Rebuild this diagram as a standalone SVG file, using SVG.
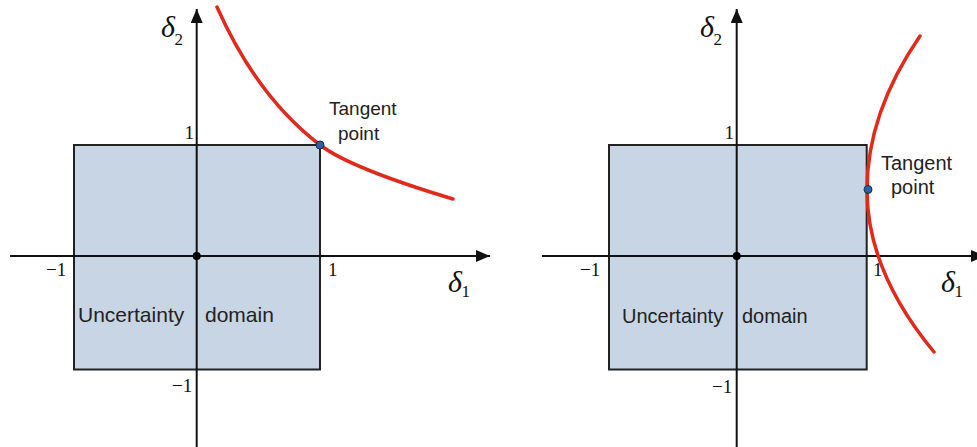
<svg xmlns="http://www.w3.org/2000/svg" width="977" height="447" viewBox="0 0 977 447">
<style>
.axis{stroke:#111;stroke-width:2;fill:none}
.dom{fill:#c7d5e4;stroke:#222;stroke-width:2}
.curve{stroke:#e02a1b;stroke-width:3.5;fill:none;stroke-linecap:round}
.tp{fill:#2f5fa6;stroke:#1a2a44;stroke-width:1}
.org{fill:#000}
.sans{font-family:"Liberation Sans",Arial,sans-serif;fill:#222}
.num{font-family:"Liberation Serif","Times New Roman",serif;font-size:19px;fill:#111}
.del{font-family:"Liberation Serif","Times New Roman",serif;font-style:italic;font-size:30px;fill:#111}
.sub{font-family:"Liberation Serif","Times New Roman",serif;font-size:17px;fill:#111}
</style>
<defs>
<marker id="arrow" markerUnits="userSpaceOnUse" markerWidth="15" markerHeight="12" refX="14" refY="6" orient="auto">
<path d="M0,0 L14,6 L0,12 z" fill="#111"/>
</marker>
</defs>

<g id="left-panel">
<g id="left-domain">
<rect class="dom" x="74" y="145" width="246" height="224.5"/>
<text class="sans" x="78" y="322" font-size="21">Uncertainty</text>
<text class="sans" x="205" y="322" font-size="21">domain</text>
</g>
<g id="left-axes">
<line class="axis" x1="10" y1="256" x2="490" y2="256" marker-end="url(#arrow)"/>
<line class="axis" x1="196.7" y1="447" x2="196.7" y2="9" marker-end="url(#arrow)"/>
<circle class="org" cx="196.7" cy="256" r="4"/>
<text class="num" x="184.5" y="139">1</text>
<text class="num" x="46" y="276">−1</text>
<text class="num" x="328" y="276">1</text>
<text class="num" x="172" y="392">−1</text>
<text class="del" x="161" y="37">δ</text><text class="sub" x="174.5" y="45">2</text>
<text class="del" x="448" y="292">δ</text><text class="sub" x="461.5" y="297">1</text>
</g>
<g id="left-curve">
<path class="curve" d="M217,7 Q257,97 320,145 Q350.7,168.3 453,199"/>
<circle class="tp" cx="320" cy="145" r="4"/>
<text class="sans" x="329" y="115" font-size="19">Tangent</text>
<text class="sans" x="338" y="140" font-size="19">point</text>
</g>
</g>

<g id="right-panel">
<g id="right-domain">
<rect class="dom" x="609" y="145" width="257.7" height="224.5"/>
<text class="sans" x="622" y="323" font-size="20">Uncertainty</text>
<text class="sans" x="742" y="323" font-size="20">domain</text>
</g>
<g id="right-axes">
<line class="axis" x1="542" y1="256" x2="985" y2="256" marker-end="url(#arrow)"/>
<line class="axis" x1="736.7" y1="447" x2="736.7" y2="9" marker-end="url(#arrow)"/>
<circle class="org" cx="736.7" cy="256" r="4"/>
<text class="num" x="724.5" y="139">1</text>
<text class="num" x="580" y="276">−1</text>
<text class="num" x="873" y="276">1</text>
<text class="num" x="712" y="393">−1</text>
<text class="del" x="700" y="37">δ</text><text class="sub" x="713.5" y="45">2</text>
<text class="del" x="941" y="292">δ</text><text class="sub" x="954.5" y="297">1</text>
</g>
<g id="right-curve">
<path class="curve" d="M920,36 Q867,113 867,190 Q867,271 934,352"/>
<circle class="tp" cx="868" cy="189.5" r="4"/>
<text class="sans" x="881" y="170" font-size="20">Tangent</text>
<text class="sans" x="891" y="194" font-size="20">point</text>
</g>
</g>
</svg>
